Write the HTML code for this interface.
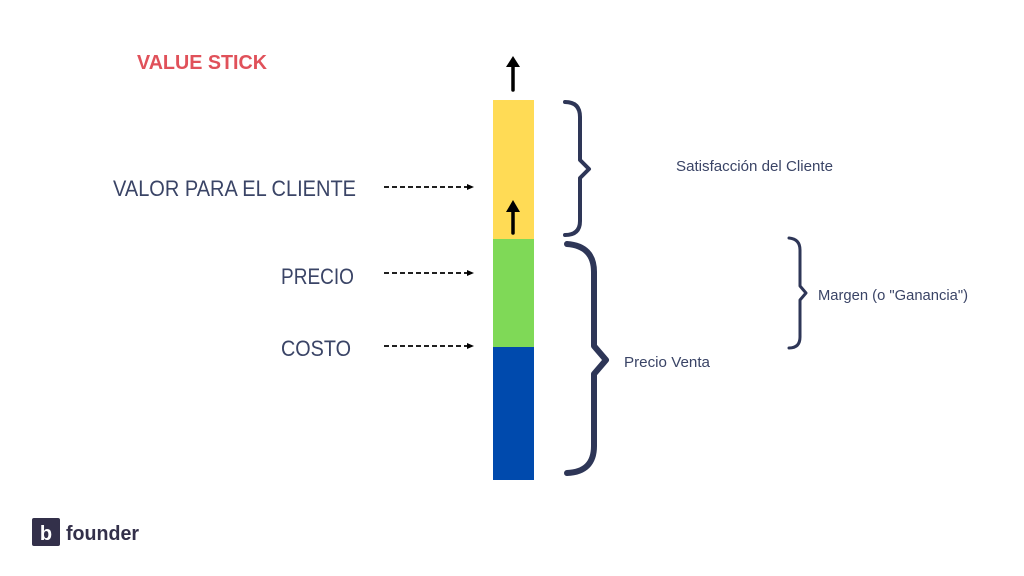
<!DOCTYPE html>
<html><head><meta charset="utf-8"><style>
html,body{margin:0;padding:0;background:#fff;}
svg{display:block;}
text{font-family:"Liberation Sans",sans-serif;}
</style></head><body>
<svg width="1024" height="576" viewBox="0 0 1024 576" xmlns="http://www.w3.org/2000/svg">
<rect width="1024" height="576" fill="#fff"/>
<text x="137" y="69" font-size="20" font-weight="bold" fill="#e0515a" textLength="130" lengthAdjust="spacingAndGlyphs">VALUE STICK</text>
<!-- bar -->
<rect x="493" y="100" width="41" height="139" fill="#ffdb55"/>
<rect x="493" y="239" width="41" height="108" fill="#7fd957"/>
<rect x="493" y="347" width="41" height="133" fill="#004aad"/>
<!-- arrows -->
<line x1="513" y1="90" x2="513" y2="64" stroke="#000" stroke-width="3.5" stroke-linecap="round"/>
<polygon points="506,67 513,56 520,67" fill="#000"/>
<line x1="513" y1="233" x2="513" y2="209" stroke="#000" stroke-width="3.5" stroke-linecap="round"/>
<polygon points="506,212 513,200 520,212" fill="#000"/>
<!-- labels left -->
<text x="113" y="196" font-size="22" fill="#3a4466" textLength="243" lengthAdjust="spacingAndGlyphs">VALOR PARA EL CLIENTE</text>
<text x="281" y="284" font-size="22" fill="#3a4466" textLength="73" lengthAdjust="spacingAndGlyphs">PRECIO</text>
<text x="281" y="356" font-size="22" fill="#3a4466" textLength="70" lengthAdjust="spacingAndGlyphs">COSTO</text>
<!-- dashed arrows -->
<g stroke="#000" stroke-width="1.8" stroke-dasharray="5,3">
<line x1="384" y1="187" x2="468" y2="187"/>
<line x1="384" y1="273" x2="468" y2="273"/>
<line x1="384" y1="346" x2="468" y2="346"/>
</g>
<g fill="#000">
<polygon points="467,184 474,187 467,190"/>
<polygon points="467,270 474,273 467,276"/>
<polygon points="467,343 474,346 467,349"/>
</g>
<!-- braces -->
<g fill="none" stroke="#2e3657" stroke-linecap="round" stroke-linejoin="round">
<path d="M565,102 Q580,102 580,117 L580,160 L589,169 L580,178 L580,221 Q580,235 565,235" stroke-width="4"/>
<path d="M567,244 Q594,246 594,272 L594,346 L606,360 L594,374 L594,446 Q594,472 567,473" stroke-width="6"/>
<path d="M789,238 Q800,239 800,250 L800,286 L806,293 L800,300 L800,337 Q800,348 789,348" stroke-width="3"/>
</g>
<!-- right labels -->
<text x="676" y="171" font-size="14.5" fill="#3a4466" textLength="157" lengthAdjust="spacingAndGlyphs">Satisfacción del Cliente</text>
<text x="624" y="367" font-size="14.5" fill="#3a4466" textLength="86" lengthAdjust="spacingAndGlyphs">Precio Venta</text>
<text x="818" y="300" font-size="14.5" fill="#3a4466" textLength="150" lengthAdjust="spacingAndGlyphs">Margen (o "Ganancia")</text>
<!-- logo -->
<rect x="32" y="518" width="28" height="28" rx="2" fill="#33304a"/>
<text x="46" y="540" font-size="20" font-weight="bold" fill="#fff" text-anchor="middle">b</text>
<text x="66" y="540" font-size="20" font-weight="bold" fill="#33304a" textLength="73" lengthAdjust="spacingAndGlyphs">founder</text>
</svg>
</body></html>
